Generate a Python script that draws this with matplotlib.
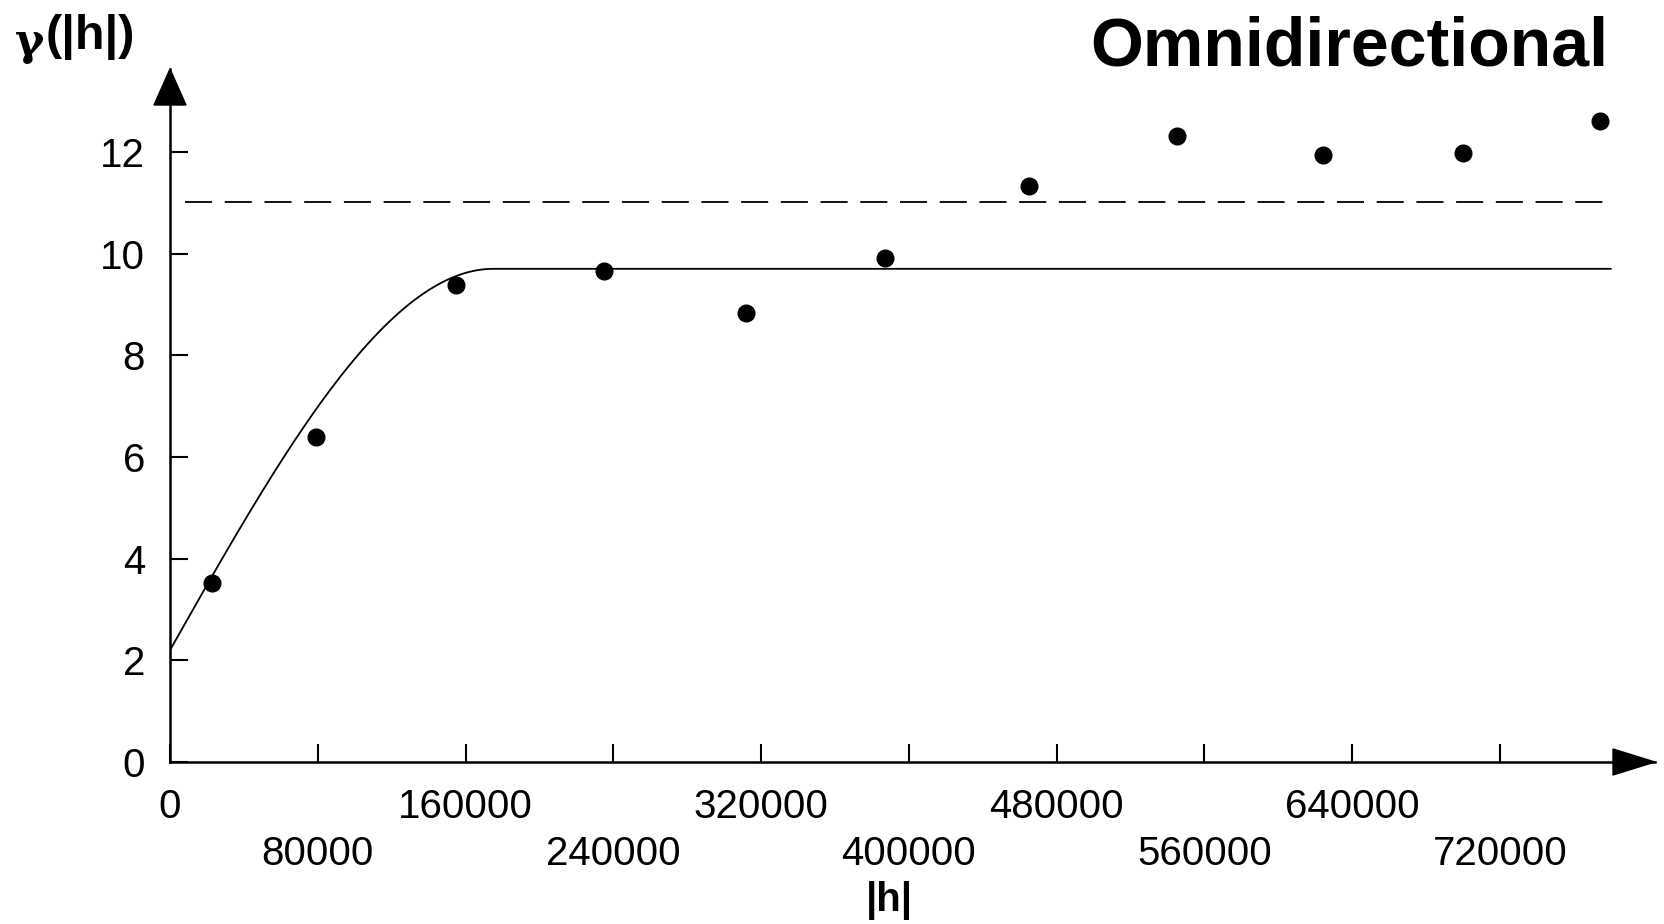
import matplotlib.pyplot as plt
import numpy as np
from matplotlib.patches import Polygon

# experimental variogram points (lag distance, semivariance)
lag = [23000, 79000, 155000, 235000, 312000, 387000, 465000, 545000, 624000, 700000, 774000]
gamma = [3.53, 6.39, 9.38, 9.65, 8.83, 9.92, 11.32, 12.32, 11.94, 11.98, 12.61]

# fitted spherical model
nugget = 2.2
sill = 9.7
model_range = 175000
h_max = 780000

# sample variance (dashed line)
variance = 11.02

xticks = [0, 80000, 160000, 240000, 320000, 400000, 480000, 560000, 640000, 720000]
yticks = [0, 2, 4, 6, 8, 10, 12]

plt.rcParams['font.family'] = ['Liberation Sans', 'DejaVu Sans']

fig = plt.figure(figsize=(16.64, 9.24), dpi=100)
ax = fig.add_axes([170/1664, 1 - 762/924, (1655-170)/1664, (762-69)/924])

#model curve
h = np.linspace(0, h_max, 800)
r = np.minimum(h / model_range, 1.0)
model = nugget + (sill - nugget) * (1.5 * r - 0.5 * r**3)
ax.plot(h, model, color='black', linewidth=1.3)

ax.plot([8000, h_max], [variance, variance], color='black', linewidth=1.3, linestyle=(0, (15, 7)))
ax.plot(lag, gamma, 'o', color='black', markersize=12)

ax.set_xlim(0, 804000)
ax.set_ylim(0, 13.63)
ax.spines['top'].set_visible(False)
ax.spines['right'].set_visible(False)
ax.spines['left'].set_linewidth(1.8)
ax.spines['bottom'].set_linewidth(1.8)

ax.set_yticks(yticks)
ax.set_yticklabels([str(v) for v in yticks])
ax.set_xticks(xticks)
ax.set_xticklabels([str(v) if i % 2 == 0 else '\n' + str(v) for i, v in enumerate(xticks)])
ax.tick_params(axis='both', direction='in', length=13, width=1.5, labelsize=29)
ax.tick_params(axis='y', pad=18)
ax.tick_params(axis='x', pad=19)
for lbl in ax.get_xticklabels():
    lbl.set_linespacing(1.3)

# arrow heads on the axes
tr = ax.transAxes
wpx, hpx = 1485, 693
ax.add_patch(Polygon([(0 - 16/wpx, 1 - 36/hpx), (0 + 16/wpx, 1 - 36/hpx), (0, 1)],
                     closed=True, color='black', transform=tr, clip_on=False))
ax.add_patch(Polygon([(1 - 42/wpx, 13/hpx), (1 - 42/wpx, -13/hpx), (1, 0)],
                     closed=True, color='black', transform=tr, clip_on=False))

fig.text(44/1664, 1 - 42/924, 'γ', fontsize=32, fontweight='bold', ha='right', va='center',
         family='DejaVu Serif')
fig.text(46/1664, 1 - 37/924, '(|h|)', fontsize=35, fontweight='bold', ha='left', va='center')
fig.text(1608/1664, 1 - 47/924, 'Omnidirectional', fontsize=49, fontweight='bold', ha='right', va='center')
fig.text(889/1664, 1 - 900/924, '|h|', fontsize=29, fontweight='bold', ha='center', va='center')

plt.savefig('out.png', dpi=100)
